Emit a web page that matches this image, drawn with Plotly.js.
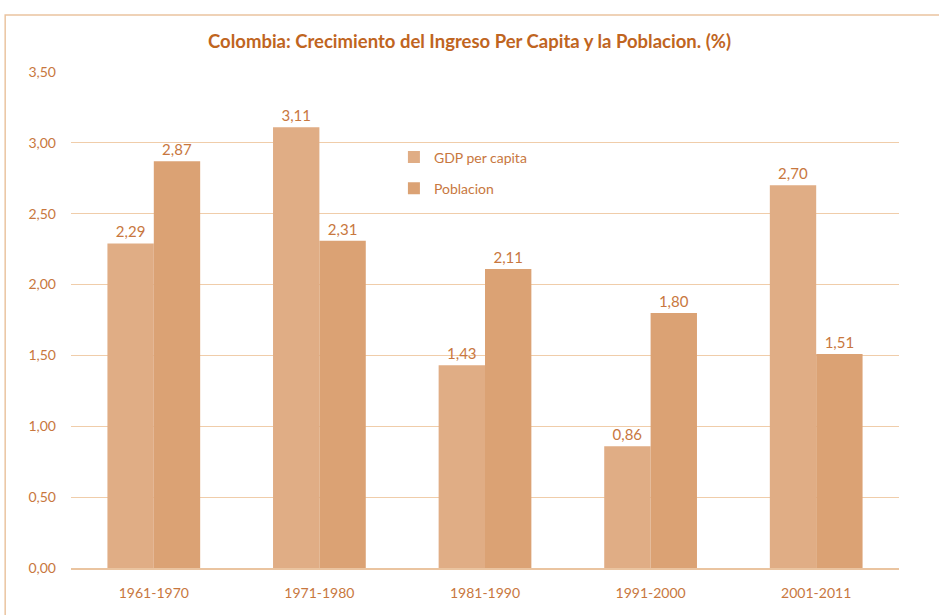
<!DOCTYPE html>
<html><head><meta charset="utf-8">
<script src="https://cdn.plot.ly/plotly-3.0.1.min.js"></script>
<style>html,body{margin:0;padding:0;background:#fff}#c{width:939px;height:615px}</style>
</head><body><div id="c"></div>
<script>
const categories = ["1961-1970","1971-1980","1981-1990","1991-2000","2001-2011"];
const gdpPerCapita = [2.29, 3.11, 1.43, 0.86, 2.70];
const poblacion = [2.87, 2.31, 2.11, 1.80, 1.51];
const seriesNames = ["GDP per capita", "Poblacion"];
const yTicks = [0, 0.5, 1, 1.5, 2, 2.5, 3, 3.5];

const font = "Lato, 'Open Sans', sans-serif";
const labelColor = "#C8773E";
function fmt(v){ return v.toFixed(2).replace('.', ','); }

const traces = [
  {type:'bar', name:seriesNames[0], legendgroup:'a', x:categories, y:gdpPerCapita,
   marker:{color:'#E0AD85'}, text:gdpPerCapita.map(fmt), textposition:'outside',
   textfont:{color:labelColor, size:15, family:font}, cliponaxis:false},
  {type:'bar', name:seriesNames[1], legendgroup:'b', x:categories, y:poblacion,
   marker:{color:'#DBA274'}, text:poblacion.map(fmt), textposition:'outside',
   textfont:{color:labelColor, size:15, family:font}, cliponaxis:false}
];

const layout = {
  width:939, height:615,
  margin:{l:71, r:40, t:72, b:47},
  paper_bgcolor:'#fff', plot_bgcolor:'#fff',
  separators:',.',
  font:{family:font, color:labelColor, size:14},
  title:{text:'<b>Colombia: Crecimiento del Ingreso Per Capita y la Poblacion. (%)</b>',
    font:{family:font, size:18.5, color:'#C0651F'}, x:0.5, xanchor:'center', y:0.932, yanchor:'middle'},
  barmode:'group', bargap:0.44, bargroupgap:0,
  xaxis:{type:'category', showgrid:false, showline:true, linecolor:'#EAC4A0', linewidth:1.5,
    ticks:'', tickfont:{family:font, size:14, color:labelColor}, ticklabelstandoff:12},
  yaxis:{range:[0,3.5], tickvals:yTicks, tickformat:'.2f', showgrid:true, gridcolor:'#F0CDAA', gridwidth:1,
    zeroline:false, showline:false, ticks:'', tickfont:{family:font, size:14, color:labelColor}, ticklabelstandoff:14},
  legend:{x:0.39, y:0.86, xanchor:'left', yanchor:'top', bgcolor:'rgba(0,0,0,0)',
    font:{family:font, size:14, color:labelColor}, tracegroupgap:10, itemwidth:30},
  showlegend:true,
  shapes:[{type:'rect', xref:'paper', yref:'paper', x0:-0.0795, x1:1.2, y0:-0.2, y1:1.115,
    line:{color:'#EAC4A0', width:1.5}, fillcolor:'rgba(0,0,0,0)', layer:'below'}]
};
Plotly.newPlot('c', traces, layout, {displayModeBar:false, staticPlot:true});
</script></body></html>
